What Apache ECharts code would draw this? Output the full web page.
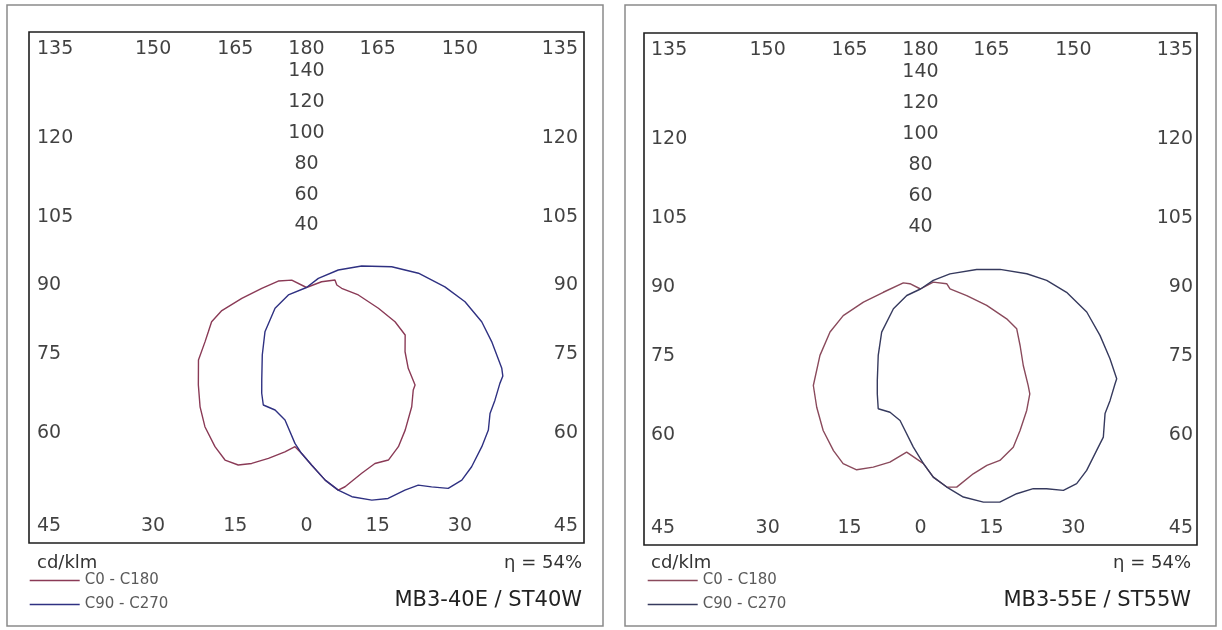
<!DOCTYPE html>
<html><head><meta charset="utf-8">
<script src="https://cdn.jsdelivr.net/npm/echarts@6/dist/echarts.min.js"></script>
<style>html,body{margin:0;padding:0;background:#fff}#c{width:1222px;height:630px}</style>
</head><body><div id="c"></div>
<script>
// ---- Data (gamma angle in degrees: 0 = down, +90 = right, 180 = up; intensity in cd/klm)
const redGamma40 = [-130,-118.6,-104,-88.9,-79.7,-73.5,-68.6,-63.9,-59.9,-53.9,-45.6,-39.4,-33.9,-27.9,-23.5,-19.5,-16,-11.6,-6.9,-3.8,-1.6,1.5,5.1,8.2,10.1,15.3,19.7,23.6,28,32.5,39.1,43.8,45.7,49.2,54.7,62.4,67.2,72.6,81.1,88.6,95.1,105.9,112.4,130];
const redI40     = [0,10,17.3,26.6,39.1,52.5,60.6,65,69.7,79.5,90,99.7,108.3,116.3,121.5,121.6,118.2,112.6,106.9,103,107.1,114.7,124.9,132.2,130.7,124.4,120.7,121.6,116.4,109.2,99.2,91.7,90.2,79.9,71.8,66.2,57.1,44.8,31.2,20.9,18.1,17.6,9.7,0];
const blueGamma40 = [-90,-66,-54.4,-40.8,-31.1,-24,-21.3,-18.7,-13.3,-8.5,-3.9,-1.6,1.5,5.1,8.2,11.3,15.8,19.6,24.1,27.5,30,33,36.6,40.3,45.4,49.6,53.3,57,61.7,63.9,65.8,72.4,78,84.4,90.3,97.9,104.8,113,120.9,130.1,145];
const blueI40     = [0,11.8,23,37.8,50.9,65.4,73.3,80.1,81.3,86.5,100.9,107.1,114.7,124.9,132.2,137.8,142.7,144.6,143.3,143.9,148.7,154.7,154.9,151.8,146.4,142,136.1,133.6,130.6,130,127.3,115.5,106.5,94.7,82.3,67.2,52.4,35.6,22,9.2,0];

const redGamma55 = [-130,-118.4,-111.2,-84.6,-76,-69.6,-62.8,-54.5,-45.8,-39.1,-32.5,-26.5,-22.3,-18.1,-13.8,-9.3,-4.5,0.9,3.6,7,9.6,14.8,19.2,23.2,28.5,33.1,39,44,45.9,51.2,58.5,65.9,69.5,75,81.3,90.3,102.3,120.1,135];
const redI55     = [0,7.2,11,22.3,35.1,49.2,60.7,73.7,89.2,98.2,108.1,116.4,121.7,122.6,118.2,113.1,105.5,112.6,121.5,128.6,129.5,123.2,120.4,120.2,116,108.8,100.7,93.9,89.5,78.7,69.7,62.9,54.9,40.9,27.9,17.6,16,8.8,0];
const blueGamma55 = [-90,-62.9,-51.7,-39.8,-30.5,-23.6,-20.9,-18.1,-12.9,-8.2,-2.4,0.9,3.6,7,10.8,15.3,19,23.5,27.6,30.3,33.3,36.6,40.3,45.3,48.8,53.9,57.6,62.2,63.7,68.3,74.4,81.5,88.6,94.2,98.8,104.9,110.6,119.1,125.9,140];
const blueI55     = [0,9.2,20.6,36.2,49.7,64.4,72.3,81.2,81.5,85.6,102,112.6,121.5,128.6,136.5,142.4,145.3,143.9,145.2,149.1,155.3,156.3,153.3,147.9,145,136.3,134,131.2,130.6,121.7,111.2,100.3,87.2,75.5,64.2,49.1,35.8,20.1,9.4,0];

// ---- Tick labels
const topTicks    = ['135','150','165','180','165','150','135'];
const bottomTicks = ['45','30','15','0','15','30','45'];
const rowAngles   = [-45,-30,-15,0,15,30,45];
const sideTicks   = ['120','105','90','75','60'];
const sideAngles  = [30,15,0,-15,-30];
const radialTicks = [40,60,80,100,120,140];

const seriesNames = ['C0 - C180','C90 - C270'];
const unitText = 'cd/klm';
const effText = ['η = 54%','η = 54%'];
const modelText = ['MB3-40E / ST40W','MB3-55E / ST55W'];

// ---- Layout / style
const R = 165, ROW = 154, LABR = 158;
const FONT = '"DejaVu Sans", Verdana, sans-serif';
const panels = [
  {grid:{left:29, top:32, width:555, height:511}, outer:[7,5,596,621], legend:[29,573], tl:37, tr:582, inL:8, inR:-6,
   red:'#8a3a56', blue:'#2f3182', rg:redGamma40, ri:redI40, bg:blueGamma40, bi:blueI40, suffix:''},
  {grid:{left:644, top:33, width:553, height:512}, outer:[625,5,591,621], legend:[647,573], tl:651, tr:1191, inL:7, inR:-4,
   red:'#8a4a5c', blue:'#363a5e', rg:redGamma55, ri:redI55, bg:blueGamma55, bi:blueI55, suffix:' '}
];

function toXY(g, I){
  return g.map((a,i)=>{const t=a*Math.PI/180; return [I[i]*Math.sin(t), -I[i]*Math.cos(t)];});
}
function labelData(p){
  const d=[], rad=Math.PI/180;
  const row=(ticks,y)=>ticks.forEach((t,i)=>{
    const a=rowAngles[i];
    if(Math.abs(a)===45) d.push({value:[a<0?-R:R,y,t],label:{align:a<0?'left':'right',offset:[a<0?p.inL:p.inR,0]}});
    else d.push({value:[LABR*Math.tan(a*rad),y,t]});
  });
  row(topTicks, ROW); row(bottomTicks, -ROW);
  sideTicks.forEach((t,i)=>{
    const y=R*Math.tan(sideAngles[i]*rad);
    d.push({value:[-R,y,t],label:{align:'left',offset:[p.inL,-2]}});
    d.push({value:[R,y,t],label:{align:'right',offset:[p.inR,-2]}});
  });
  radialTicks.forEach(r=>d.push({value:[0,r,String(r)]}));
  return d;
}

const option={animation:false,backgroundColor:'#fff',grid:[],xAxis:[],yAxis:[],series:[],legend:[],graphic:[]};
panels.forEach((p,k)=>{
  option.grid.push(Object.assign({show:true,borderColor:'#1e1e1e',borderWidth:1.6,backgroundColor:'transparent'},p.grid));
  option.xAxis.push({type:'value',gridIndex:k,min:-R,max:R,show:false});
  option.yAxis.push({type:'value',gridIndex:k,min:-R,max:R,show:false});
  const n0=seriesNames[0]+p.suffix, n1=seriesNames[1]+p.suffix;
  option.series.push({type:'line',name:n0,xAxisIndex:k,yAxisIndex:k,data:toXY(p.rg,p.ri),symbol:'none',showSymbol:false,
    lineStyle:{color:p.red,width:1.4},itemStyle:{color:p.red},silent:true,z:3});
  option.series.push({type:'line',name:n1,xAxisIndex:k,yAxisIndex:k,data:toXY(p.bg,p.bi),symbol:'none',showSymbol:false,
    lineStyle:{color:p.blue,width:1.4},itemStyle:{color:p.blue},silent:true,z:4});
  option.series.push({type:'scatter',xAxisIndex:k,yAxisIndex:k,data:labelData(p),symbolSize:0.1,itemStyle:{color:'transparent'},silent:true,z:5,
    label:{show:true,position:'inside',formatter:q=>q.value[2],color:'#111',fontSize:19,fontFamily:FONT}});
  option.legend.push({left:p.legend[0],top:p.legend[1],padding:0,orient:'vertical',itemWidth:50,itemHeight:14,itemGap:9,
    itemStyle:{opacity:0},lineStyle:{width:1.4},
    data:[n0,n1],formatter:s=>s.trim(),selectedMode:false,textStyle:{fontSize:15,color:'#5a5a5a',fontFamily:FONT}});
  option.graphic.push({type:'rect',shape:{x:p.outer[0],y:p.outer[1],width:p.outer[2],height:p.outer[3]},style:{fill:'none',stroke:'#8a8a8a',lineWidth:1.5},silent:true});
  option.graphic.push({type:'text',x:p.tl,y:563,style:{text:unitText,fill:'#333',font:'18px '+FONT,align:'left',verticalAlign:'middle'}});
  option.graphic.push({type:'text',x:p.tr,y:563,style:{text:effText[k],fill:'#333',font:'18px '+FONT,align:'right',verticalAlign:'middle'}});
  option.graphic.push({type:'text',x:p.tr,y:601,style:{text:modelText[k],fill:'#222',font:'21px '+FONT,align:'right',verticalAlign:'middle'}});
});
const chart=echarts.init(document.getElementById('c'),null,{renderer:'canvas'});
chart.setOption(option);
</script></body></html>
